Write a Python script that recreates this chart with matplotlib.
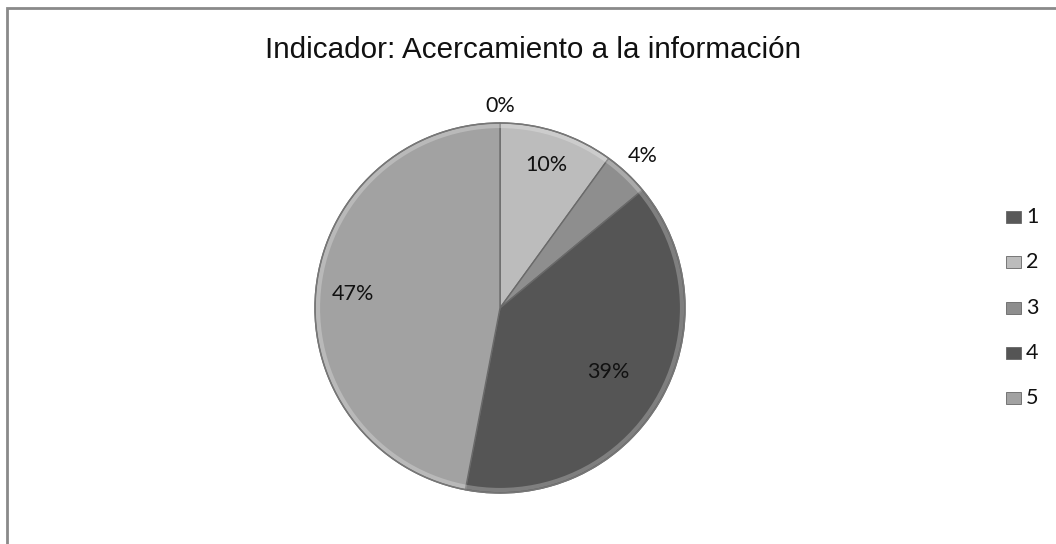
import matplotlib
matplotlib.use("Agg")
import matplotlib.pyplot as plt
from matplotlib.patches import Rectangle
import numpy as np

# Chart data
categories = ["1", "2", "3", "4", "5"]
values = [0, 10, 4, 39, 47]
title = "Indicador: Acercamiento a la información"

colors = ["#595959", "#bcbcbc", "#8e8e8e", "#555555", "#a2a2a2"]
label_dist = [1.09, 0.81, 1.13, 0.68, 0.80]

W, H = 1056, 544
fig = plt.figure(figsize=(W / 100, H / 100), dpi=100)
ax = fig.add_axes([0, 0, 1, 1])

def py(y):
    # pixel row -> data y
    return H - y

# Outer chart frame (runs past the right and bottom edges)
ax.add_patch(Rectangle((7, -10), W + 20, py(8) + 10, fill=False,
                       edgecolor="#8a8a8a", linewidth=2, zorder=0))

cx, cy, r = 500, py(308), 185
wedges, _ = ax.pie(values, colors=colors, startangle=90, counterclock=False,
                   center=(cx, cy), radius=r, frame=True,
                   wedgeprops=dict(edgecolor="#6a6a6a", linewidth=1.0))
# soft rim highlight
ax.add_patch(plt.Circle((cx, cy), r - 3, fill=False, edgecolor="white",
                        alpha=0.25, linewidth=3))
ax.add_patch(plt.Circle((cx, cy), r, fill=False, edgecolor="#777777",
                        linewidth=1.0))
ax.set_xlim(0, W)
ax.set_ylim(0, H)
ax.set_aspect("equal")
ax.axis("off")

# Percentage labels at each slice's mid angle
total = sum(values)
start = 90.0
for v, d in zip(values, label_dist):
    span = 360.0 * v / total
    mid = np.deg2rad(start - span / 2)
    start -= span
    x = cx + d * r * np.cos(mid)
    y = cy + d * r * np.sin(mid)
    ax.text(x, y, f"{round(100 * v / total)}%", ha="center", va="center",
            fontsize=15.5, family="Lato", color="#111111")

ax.text(533, py(50), title, ha="center", va="center",
        fontsize=21.3, family="Liberation Sans", color="#111111")

# Legend: small swatches with category names
for i, (cat, c) in enumerate(zip(categories, colors)):
    yc = py(217 + 45.3 * i)
    ax.add_patch(Rectangle((1006, yc - 6), 15, 12, facecolor=c,
                           edgecolor="#666666", linewidth=0.6))
    ax.text(1026, yc, cat, ha="left", va="center", fontsize=15.5,
            family="Lato", color="#111111")

fig.savefig("out.png", dpi=100, facecolor="white")
